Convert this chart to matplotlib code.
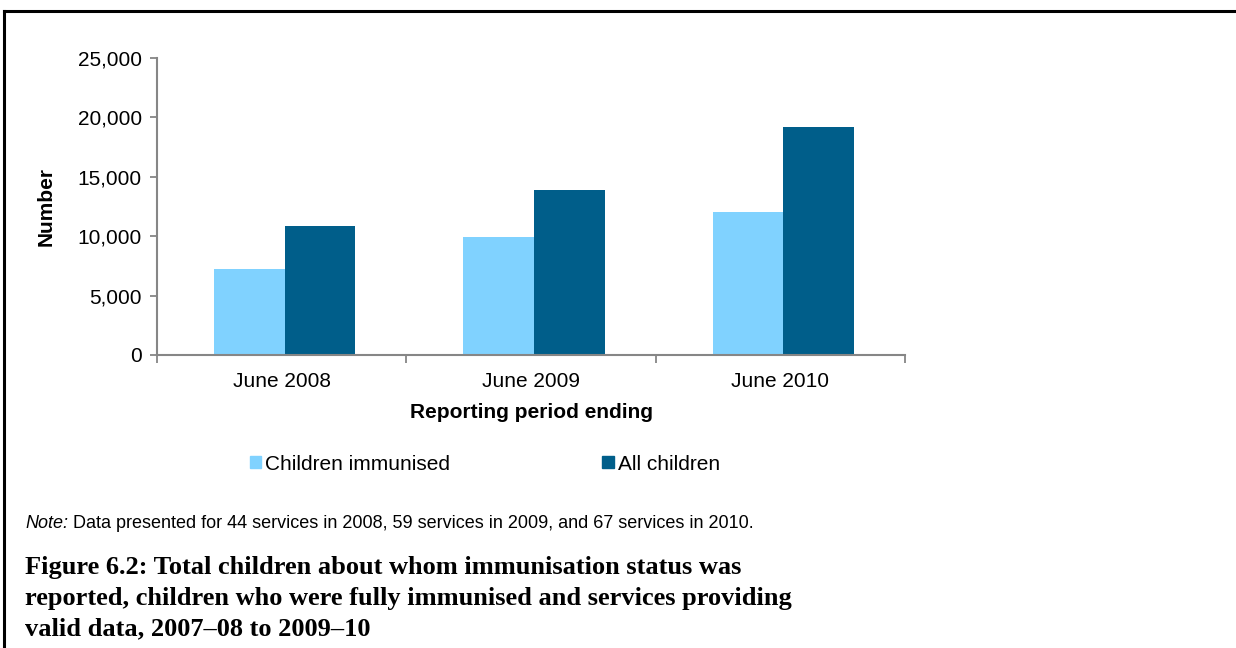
import numpy as np
import matplotlib
matplotlib.use("Agg")
import matplotlib.pyplot as plt
from matplotlib.lines import Line2D
from matplotlib.patches import Patch
from matplotlib.ticker import FuncFormatter

periods = ["June 2008", "June 2009", "June 2010"]
immunised = [7250, 9900, 12000]
all_children = [10850, 13850, 19150]
series_names = ["Children immunised", "All children"]

light = "#80D2FF"
dark = "#005E8A"
axis_grey = "#868686"

plt.rcParams['font.family'] = ['Liberation Sans', 'DejaVu Sans']

W, H = 1236, 648
fig = plt.figure(figsize=(W / 100, H / 100), dpi=100)
ax = fig.add_axes([157 / W, 1 - 355 / H, (905 - 157) / W, (355 - 58) / H])

x = np.arange(len(periods))
bw = 0.283
off = 0.012
ax.bar(x - bw / 2 + off, immunised, bw, color=light, label=series_names[0])
ax.bar(x + bw / 2 + off, all_children, bw, color=dark, label=series_names[1])

ax.set_xlim(-0.5, len(periods) - 0.5)
ax.set_ylim(0, 25000)
ax.set_yticks(range(0, 25001, 5000))
ax.yaxis.set_major_formatter(FuncFormatter(lambda v, p: f"{int(v):,}"))
ax.set_xticks(x)
ax.set_xticklabels(periods)
ax.set_xticks(np.arange(-0.5, len(periods)), minor=True)
ax.tick_params(axis='x', which='major', length=0, pad=12, labelsize=15)
ax.tick_params(axis='x', which='minor', length=6, width=1.3, color=axis_grey, direction='out')
ax.tick_params(axis='y', length=5, width=1.3, color=axis_grey, direction='out', labelsize=15, pad=6)

for s in ['top', 'right']:
    ax.spines[s].set_visible(False)
for s in ['left', 'bottom']:
    ax.spines[s].set_color(axis_grey)
    ax.spines[s].set_linewidth(1.5)

ax.set_ylabel("Number", fontsize=15, fontweight='bold', labelpad=16)
ax.set_xlabel("Reporting period ending", fontsize=15, fontweight='bold', labelpad=9)

handles = [Patch(color=light), Patch(color=dark)]
fig.legend(handles, series_names, loc='center', bbox_to_anchor=(485 / W, 1 - 464 / H),
           ncol=2, frameon=False, fontsize=15, handlelength=0.55, handleheight=0.55,
           handletextpad=0.2, columnspacing=7.3)

t1 = fig.text(25 / W, 1 - 523 / H, "Note:", fontsize=13, style='italic', va='center')
ax.annotate(" Data presented for 44 services in 2008, 59 services in 2009, and 67 services in 2010.",
            xy=(1, 0.5), xycoords=t1, va='center', fontsize=13)

fig.text(25 / W, 1 - 598 / H,
         "Figure 6.2: Total children about whom immunisation status was\n"
         "reported, children who were fully immunised and services providing\n"
         "valid data, 2007\u201308 to 2009\u201310",
         fontsize=19, fontweight='bold', va='center', linespacing=1.42,
         family=['Liberation Serif', 'DejaVu Serif'])

# page border
fig.add_artist(Line2D([4 / W, 1], [1 - 11 / H, 1 - 11 / H], color='black', lw=2.2))
fig.add_artist(Line2D([4 / W, 4 / W], [0, 1 - 11 / H], color='black', lw=2.2))

fig.savefig("out.png", dpi=100)
